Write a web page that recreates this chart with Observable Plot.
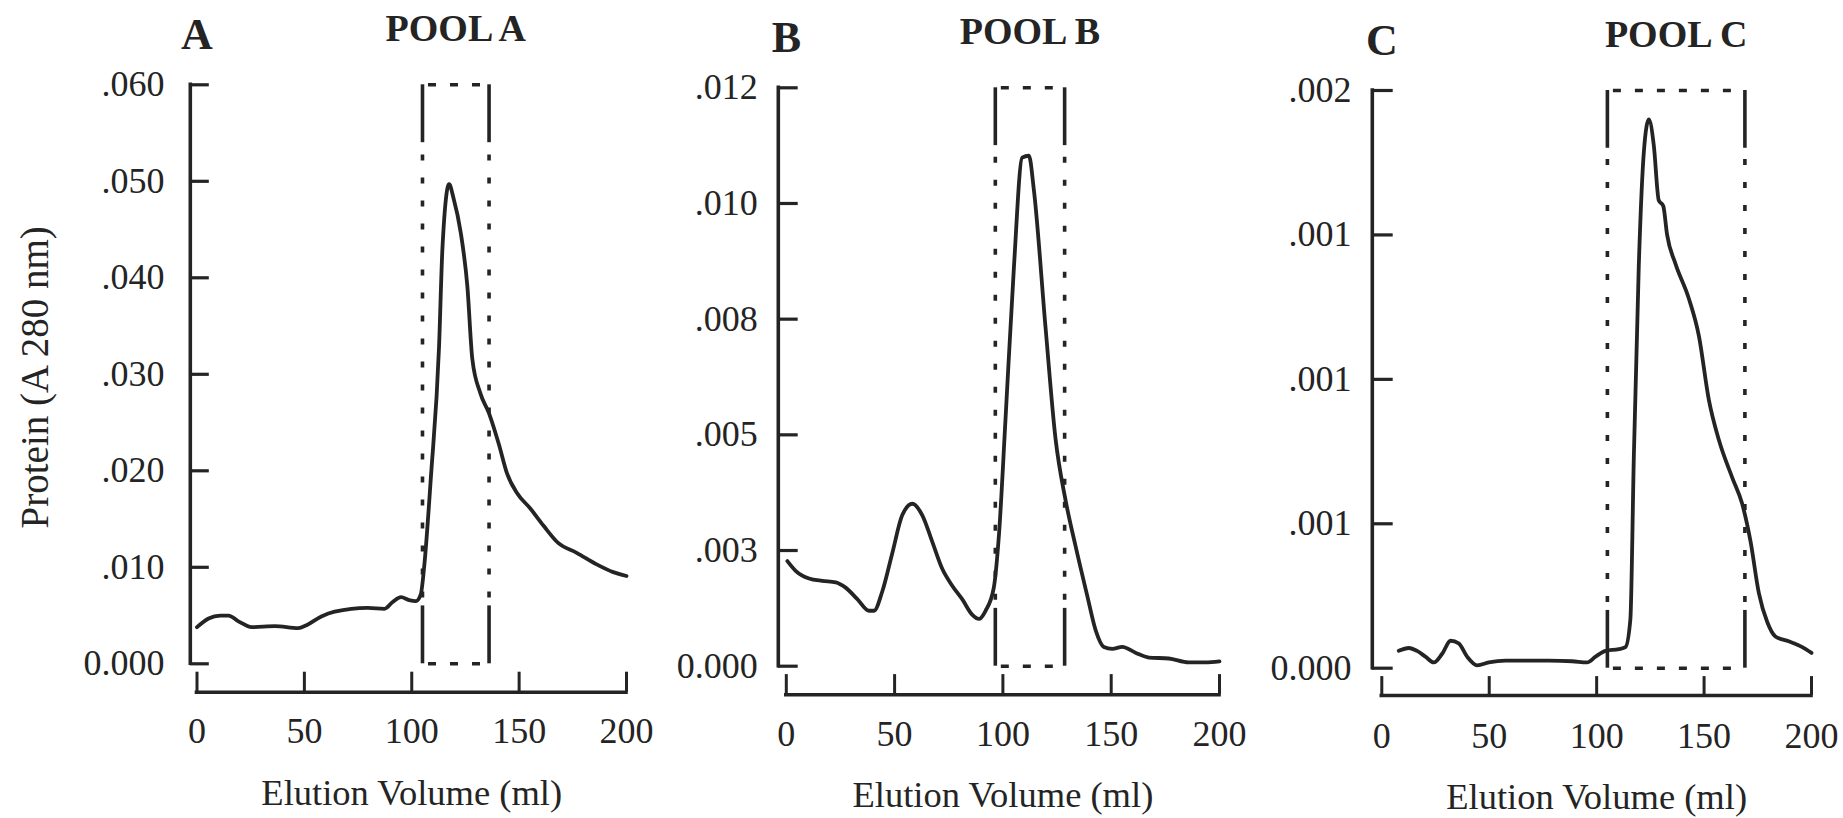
<!DOCTYPE html>
<html>
<head>
<meta charset="utf-8">
<script src="https://cdn.jsdelivr.net/npm/d3@7"></script>
<script src="https://cdn.jsdelivr.net/npm/@observablehq/plot@0.6"></script>
<style>
  html, body { margin: 0; padding: 0; background: #fff; }
  #chart { position: relative; width: 1843px; height: 818px; overflow: hidden; background: #fff; }
  #chart svg { position: absolute; top: 0; overflow: visible; }
</style>
</head>
<body>
<div id="chart"></div>
<script>
// ---------- data ----------
const panelLetters = ["A", "B", "C"];
const poolTitles = ["POOL A", "POOL B", "POOL C"];
const xTitle = "Elution Volume (ml)";
const yTitle = "Protein (A 280 nm)";
const xTicks = [0, 50, 100, 150, 200];

const yTicksA = [0, 0.01, 0.02, 0.03, 0.04, 0.05, 0.06];
const yLabelsA = ["0.000", ".010", ".020", ".030", ".040", ".050", ".060"];
const yTicksB = [0, 0.0024, 0.0048, 0.0072, 0.0096, 0.012];
const yLabelsB = ["0.000", ".003", ".005", ".008", ".010", ".012"];
const yTicksC = [0, 0.0005, 0.001, 0.0015, 0.002];
const yLabelsC = ["0.000", ".001", ".001", ".001", ".002"];

// pooled fraction windows (ml)
const poolA = [105, 136];
const poolB = [96.5, 128.5];
const poolC = [105, 169];

// elution profiles (ml, A280)
const volA = [0, 5.4, 10.8, 14.7, 19.3, 25.5, 36.3, 47.1, 51, 57.9, 64.1, 79.5, 87.3, 91.1, 95, 98.8, 101.9, 104.2, 105.8, 108.9, 112.7, 114.3, 117.4, 119.4, 122.8, 125.9, 128.2, 132, 135.9, 140.5, 144.4, 149, 155.2, 161.4, 168.3, 176.8, 186.1, 193.8, 200];
const absA = [0.0038, 0.0047, 0.0050, 0.0050, 0.0044, 0.0038, 0.0039, 0.0037, 0.0040, 0.0049, 0.0054, 0.0058, 0.0057, 0.0064, 0.0069, 0.0066, 0.0065, 0.0072, 0.0101, 0.0193, 0.0328, 0.0431, 0.0497, 0.0483, 0.0447, 0.0391, 0.0316, 0.0280, 0.0260, 0.0228, 0.0197, 0.0177, 0.0161, 0.0143, 0.0125, 0.0115, 0.0103, 0.0095, 0.0091];

const volB = [0.5, 4.3, 10.5, 16.6, 22.8, 27.4, 32.8, 38.2, 40.5, 44.3, 48.9, 53.5, 58.2, 62.8, 67.4, 72, 76.6, 81.2, 85.8, 88.9, 92, 95.8, 98.2, 101.2, 105.1, 108.9, 112, 114.3, 119.7, 124.3, 128.9, 133.5, 138.9, 142.8, 146.6, 150.5, 155.1, 161.2, 167.4, 176.6, 185.8, 193.5, 200];
const absB = [0.00218, 0.00198, 0.00182, 0.00177, 0.00174, 0.00163, 0.00139, 0.00115, 0.00115, 0.00155, 0.00234, 0.00313, 0.00337, 0.00313, 0.00258, 0.00202, 0.00167, 0.00139, 0.00107, 0.00098, 0.00115, 0.00163, 0.00274, 0.00512, 0.00829, 0.01055, 0.01059, 0.00988, 0.00702, 0.00472, 0.00345, 0.00250, 0.00147, 0.00075, 0.00040, 0.00036, 0.00040, 0.00028, 0.00018, 0.00016, 0.00008, 0.00008, 0.00010];

const volC = [7.9, 12.6, 16.4, 20.3, 24.2, 28.1, 32, 35.8, 39.7, 44.4, 49.8, 57.6, 77.7, 88.6, 95.6, 99.5, 104.1, 110.3, 113.4, 115.7, 117.3, 119.6, 122, 124.3, 126.6, 128.9, 131, 132.8, 136.7, 142.9, 147.6, 152.2, 156.9, 163.1, 167.7, 171.6, 175.5, 179.4, 183.2, 189.4, 195.7, 200];
const absC = [0.00006, 0.00007, 0.00006, 0.00004, 0.00002, 0.00005, 0.000095, 0.000086, 0.00004, 0.00001, 0.00002, 0.000026, 0.000026, 0.000024, 0.00002, 0.00004, 0.00006, 0.000066, 0.000073, 0.00017, 0.00073, 0.00139, 0.00179, 0.0019, 0.00181, 0.00162, 0.0016, 0.0015, 0.0014, 0.00128, 0.00115, 0.00093, 0.00079, 0.00066, 0.00057, 0.00044, 0.00026, 0.00016, 0.00011, 0.000093, 0.000073, 0.000053];

// ---------- layout / style ----------
const FONT = "'Liberation Serif', 'Times New Roman', Times, serif";
const INK = "#242424";

const panels = [
  {letter: panelLetters[0], title: poolTitles[0], vol: volA, abs: absA, pool: poolA, yTicks: yTicksA, yLabels: yLabelsA,
   left: 0, width: 665, mL: 196.5, mR: 39, mT: 84.3, mB: 154.7, axisDx: -6.7, tickEnd: 12.3, labelDx: -32.5, xAxisDy: 28.4, yTitle: true},
  {letter: panelLetters[1], title: poolTitles[1], vol: volB, abs: absB, pool: poolB, yTicks: yTicksB, yLabels: yLabelsB,
   left: 665, width: 595, mL: 120.8, mR: 41, mT: 87.3, mB: 152.3, axisDx: -8, tickEnd: 11.9, labelDx: -28.5, xAxisDy: 28.6, yTitle: false},
  {letter: panelLetters[2], title: poolTitles[2], vol: volC, abs: absC, pool: poolC, yTicks: yTicksC, yLabels: yLabelsC,
   left: 1260, width: 583, mL: 121.3, mR: 32, mT: 90, mB: 150.3, axisDx: -9.5, tickEnd: 11.4, labelDx: -30.3, xAxisDy: 27.3, yTitle: false}
];

const chart = document.getElementById("chart");

for (const p of panels) {
  const ymax = p.yTicks[p.yTicks.length - 1];
  const series = p.vol.map((v, i) => ({v, a: p.abs[i]}));
  const solidFrac = 0.1;
  const boxW = 3.6;
  const marks = [
    // y axis line (offset left of x = 0)
    Plot.ruleX([0], {y1: 0, y2: ymax, dx: p.axisDx, stroke: INK, strokeWidth: 3.6, strokeLinecap: "square"}),
    // y ticks pointing inward
    Plot.ruleY(p.yTicks, {x1: 0, x2: 0, insetLeft: p.axisDx, insetRight: -p.tickEnd, stroke: INK, strokeWidth: 3.2}),
    // y tick labels
    Plot.text(p.yTicks, {x: 0, y: d => d, text: (d, i) => p.yLabels[i], textAnchor: "end", lineAnchor: "middle",
      dx: p.labelDx, fontSize: 36, fontFamily: FONT, fill: INK}),
    // x axis line (offset below y = 0)
    Plot.ruleY([0], {x1: 0, x2: 200, dy: p.xAxisDy, stroke: INK, strokeWidth: 3.6, strokeLinecap: "square"}),
    // x ticks pointing up
    Plot.ruleX(xTicks, {y1: 0, y2: 0, insetTop: 8.4, insetBottom: -p.xAxisDy, stroke: INK, strokeWidth: 3}),
    // x tick labels
    Plot.text(xTicks, {x: d => d, y: 0, text: d => String(d), lineAnchor: "bottom", dy: 79.5,
      fontSize: 36, fontFamily: FONT, fill: INK}),
    // x axis title
    Plot.text([xTitle], {x: 100, y: 0, text: d => d, lineAnchor: "bottom", dy: 141, fontSize: 36.5, fontFamily: FONT, fill: INK}),
    // pool window: top and bottom dotted edges
    Plot.ruleY([ymax, 0], {x1: p.pool[0], x2: p.pool[1], stroke: INK, strokeWidth: boxW, strokeDasharray: "8,14", strokeDashoffset: -6}),
    // pool window sides: solid ends + dotted middle
    Plot.ruleX(p.pool, {y1: ymax * (1 - solidFrac), y2: ymax, stroke: INK, strokeWidth: boxW}),
    Plot.ruleX(p.pool, {y1: 0, y2: ymax * solidFrac, stroke: INK, strokeWidth: boxW}),
    Plot.ruleX(p.pool, {y1: ymax * solidFrac, y2: ymax * (1 - solidFrac), stroke: INK, strokeWidth: boxW, strokeDasharray: "6,17", strokeDashoffset: -8}),
    // elution curve
    Plot.line(series, {x: "v", y: "a", curve: "monotone-x", stroke: INK, strokeWidth: 3.8, strokeLinejoin: "round", strokeLinecap: "round"}),
    // panel letter
    Plot.text([p.letter], {x: 0, y: ymax, text: d => d, lineAnchor: "bottom", dy: -35.5, fontSize: 44, fontWeight: "bold", fontFamily: FONT, fill: INK}),
    // pool title
    Plot.text([p.title], {x: (p.pool[0] + p.pool[1]) / 2, y: ymax, text: d => d, lineAnchor: "bottom", dy: -44, fontSize: 38, fontWeight: "bold", fontFamily: FONT, fill: INK})
  ];
  if (p.yTitle) {
    marks.push(Plot.text([yTitle], {frameAnchor: "left", text: d => d, rotate: -90, textAnchor: "middle", lineAnchor: "bottom",
      dx: 47 - p.mL, dy: 3, fontSize: 39, fontFamily: FONT, fill: INK}));
  }
  const svg = Plot.plot({
    width: p.width,
    height: 818,
    marginLeft: p.mL,
    marginRight: p.mR,
    marginTop: p.mT,
    marginBottom: p.mB,
    x: {domain: [0, 200], axis: null},
    y: {domain: [0, ymax], axis: null},
    style: {fontFamily: FONT, color: INK, background: "transparent", overflow: "visible", maxWidth: "none"},
    marks
  });
  svg.style.left = p.left + "px";
  chart.appendChild(svg);
}
</script>
</body>
</html>
